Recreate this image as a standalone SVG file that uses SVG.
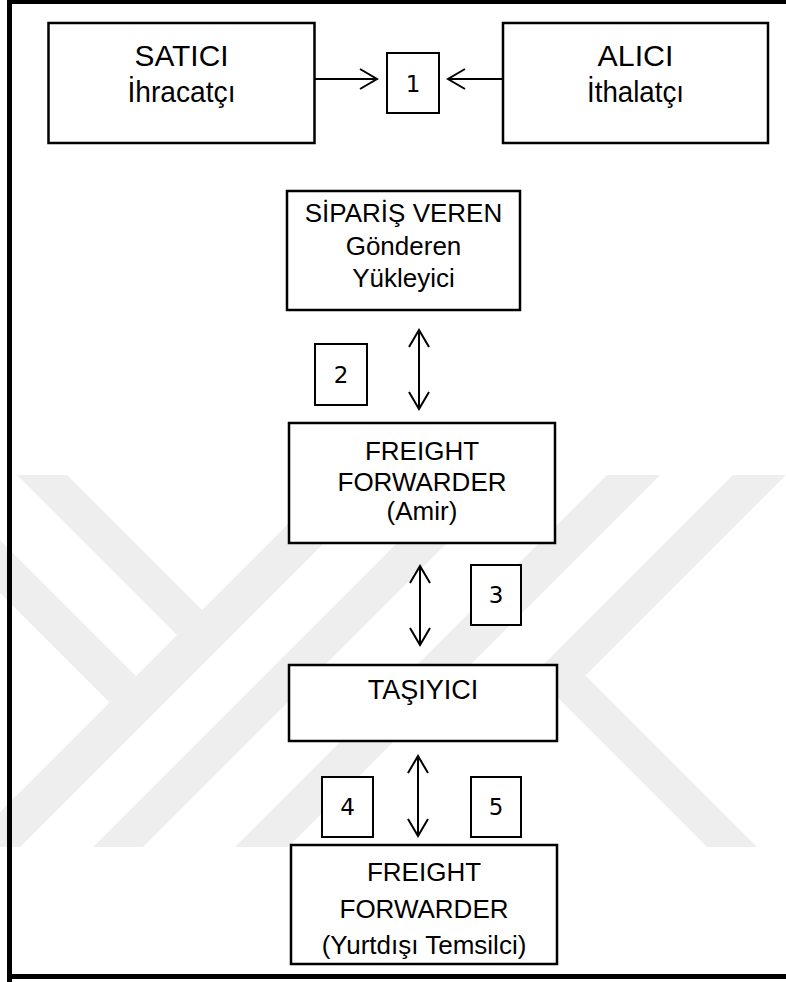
<svg xmlns="http://www.w3.org/2000/svg" width="786" height="982" viewBox="0 0 786 982">
<style>
.box{fill:#fff;stroke:#000;stroke-width:2.5}
.nbox{fill:#fff;stroke:#000;stroke-width:2}
.t{font-family:"Liberation Sans",Arial,sans-serif;fill:#000;text-anchor:middle}
.big{font-size:30px}
.mid{font-size:26px}
.num{font-family:"DejaVu Sans",sans-serif;font-size:23px;fill:#000;text-anchor:middle}
.ln{stroke:#000;stroke-width:2;fill:none}
.wm{fill:#eeeeee}
</style>
<rect x="0" y="0" width="786" height="982" fill="#fff"/>
<g id="watermark">
<polygon class="wm" points="17,475 67,475 202,610 177,635"/>
<polygon class="wm" points="0,540 136,676 109.5,702.5 0,593"/>
<polygon class="wm" points="337,475 392,475 20,847 0,847 0,812"/>
<polygon class="wm" points="465,475 515,475 143,847 93,847"/>
<polygon class="wm" points="607,475 660,475 288,847 235,847"/>
<polygon class="wm" points="733,475 786,475 585.5,675.5 757,847 707,847 534,674"/>
</g>
<g id="frame">
<rect x="7" y="0" width="779" height="4" fill="#000"/>
<rect x="7" y="0" width="5" height="982" fill="#000"/>
<rect x="7" y="974" width="779" height="5" fill="#000"/>
</g>
<g id="connectors">
<path class="ln" d="M315,79 H377 M360,69 L377,79 L360,89"/>
<path class="ln" d="M503,79 H448 M465,69 L448,79 L465,89"/>
<path class="ln" d="M419,330 V409 M409,347 L419,330 L429,347 M409,392 L419,409 L429,392"/>
<path class="ln" d="M420,566 V645 M410,583 L420,566 L430,583 M410,628 L420,645 L430,628"/>
<path class="ln" d="M418,756 V836 M408,773 L418,756 L428,773 M408,819 L418,836 L428,819"/>
</g>
<g id="satici">
<rect class="box" x="48.5" y="23" width="266" height="120"/>
<text class="t big" x="181.5" y="66" textLength="94" lengthAdjust="spacingAndGlyphs">SATICI</text>
<text class="t big" x="181.5" y="102" textLength="108" lengthAdjust="spacingAndGlyphs">İhracatçı</text>
</g>
<g id="alici">
<rect class="box" x="503" y="23" width="265" height="120"/>
<text class="t big" x="635.5" y="66" textLength="76" lengthAdjust="spacingAndGlyphs">ALICI</text>
<text class="t big" x="635.5" y="102" textLength="97" lengthAdjust="spacingAndGlyphs">İthalatçı</text>
</g>
<g id="n1">
<rect class="nbox" x="387" y="53" width="52" height="60"/>
<text class="num" x="413" y="92">1</text>
</g>
<g id="siparis">
<rect class="box" x="287" y="191" width="233" height="119"/>
<text class="t mid" x="403.5" y="222">SİPARİŞ VEREN</text>
<text class="t mid" x="403.5" y="255">Gönderen</text>
<text class="t mid" x="403.5" y="287">Yükleyici</text>
</g>
<g id="n2">
<rect class="nbox" x="315" y="344" width="52" height="61"/>
<text class="num" x="341" y="383">2</text>
</g>
<g id="ff-amir">
<rect class="box" x="289" y="423" width="266" height="120"/>
<text class="t mid" x="422" y="460">FREIGHT</text>
<text class="t mid" x="422" y="491">FORWARDER</text>
<text class="t mid" x="422" y="520">(Amir)</text>
</g>
<g id="n3">
<rect class="nbox" x="471" y="565" width="50" height="60"/>
<text class="num" x="496" y="603">3</text>
</g>
<g id="tasiyici">
<rect class="box" x="289" y="665" width="268" height="76"/>
<text class="t" style="font-size:27px" x="423" y="699">TAŞIYICI</text>
</g>
<g id="n4">
<rect class="nbox" x="322" y="777" width="51" height="60"/>
<text class="num" x="347.5" y="815">4</text>
</g>
<g id="n5">
<rect class="nbox" x="471" y="777" width="50" height="60"/>
<text class="num" x="496" y="815">5</text>
</g>
<g id="ff-yurtdisi">
<rect class="box" x="291" y="845" width="266" height="119"/>
<text class="t mid" x="424" y="881">FREIGHT</text>
<text class="t mid" x="424" y="918">FORWARDER</text>
<text class="t mid" x="424" y="954">(Yurtdışı Temsilci)</text>
</g>
</svg>
